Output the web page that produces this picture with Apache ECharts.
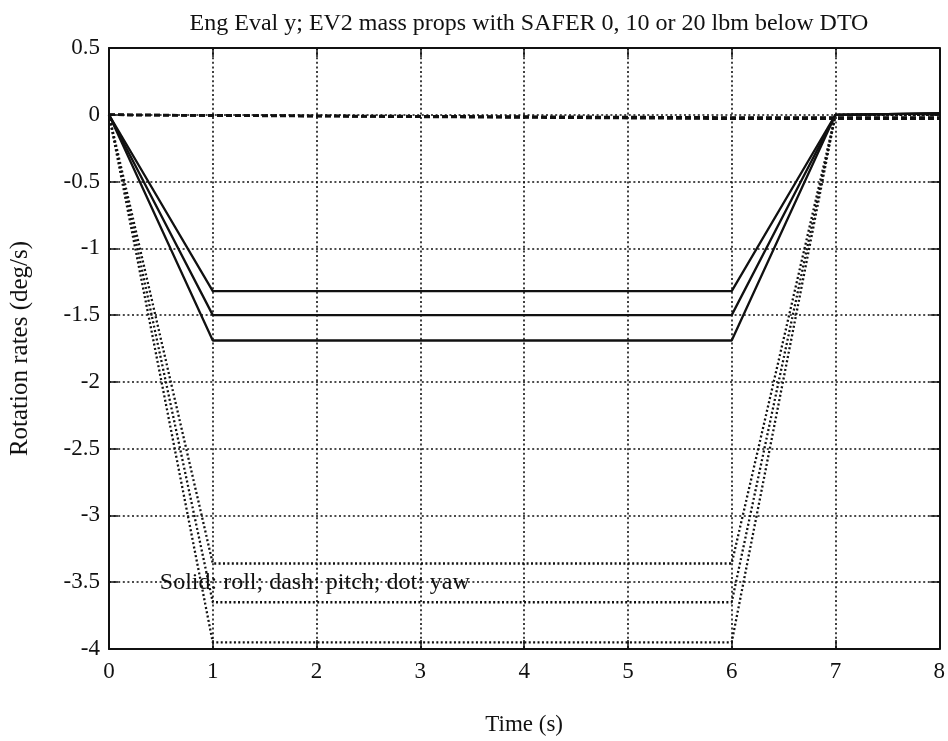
<!DOCTYPE html>
<html>
<head>
<meta charset="utf-8">
<script src="https://cdn.jsdelivr.net/npm/echarts@6/dist/echarts.min.js"></script>
<style>
  html, body { margin: 0; padding: 0; background: #fff; }
  #chart { width: 948px; height: 741px; }
</style>
</head>
<body>
<div id="chart"></div>
<script>
// SAFER rotation rates, three mass cases per axis
const time = [0, 1, 6, 7, 8]

const roll0 = [0, -1.32, -1.32, 0, 0.01]
const roll10 = [0, -1.50, -1.50, 0, 0.01]
const roll20 = [0, -1.69, -1.69, 0, 0.01]

const pitch0 = [0, -0.004, -0.02, -0.02, -0.02]
const pitch10 = [0, -0.005, -0.025, -0.025, -0.025]
const pitch20 = [0, -0.006, -0.03, -0.03, -0.03]

const yaw0 = [0, -3.36, -3.36, 0, 0]
const yaw10 = [0, -3.65, -3.65, 0, 0]
const yaw20 = [0, -3.95, -3.95, 0, 0]

const titleText = 'Eng Eval y; EV2 mass props with SAFER 0, 10 or 20 lbm below DTO'
const noteText = 'Solid: roll; dash: pitch; dot: yaw'
const notePos = [0.49, -3.5]

const FONT = '"Liberation Serif", "Times New Roman", serif'
const INK = '#111'
const GRID_DOT = [2, 2.6]

const pairs = vals => time.map((t, i) => [t, vals[i]])

function lineSeries(vals, kind) {
  const styles = {
    roll: { width: 2.3, type: 'solid' },
    pitch: { width: 2.5, type: [6, 3] },
    yaw: { width: 2.3, type: [2, 2.4] }
  }
  return {
    type: 'line',
    data: pairs(vals),
    symbol: 'none',
    animation: false,
    lineStyle: { color: INK, ...styles[kind] },
    z: kind === 'roll' ? 4 : 3
  }
}

const chart = echarts.init(document.getElementById('chart'))

const tickInside = { show: true, inside: true, length: 9, lineStyle: { color: INK, width: 1.5 } }
const frameLine = { show: true, onZero: false, lineStyle: { color: INK, width: 2 } }

chart.setOption({
  animation: false,
  textStyle: { fontFamily: FONT, color: INK },
  title: {
    text: titleText,
    left: 524,
    textAlign: 'center',
    top: 7,
    textStyle: { fontFamily: FONT, fontWeight: 'normal', fontSize: 24, color: INK }
  },
  grid: { left: 109, right: 8, top: 48, bottom: 85, containLabel: false },
  xAxis: [
    {
      type: 'value', min: 0, max: 8, interval: 1,
      name: 'Time (s)', nameLocation: 'middle', nameGap: 64,
      nameTextStyle: { fontFamily: FONT, fontSize: 23, color: INK },
      axisLine: frameLine,
      axisTick: tickInside,
      axisLabel: { fontFamily: FONT, fontSize: 23, color: INK, margin: 11 },
      splitLine: { show: true, lineStyle: { color: INK, width: 1.6, type: GRID_DOT } }
    },
    {
      type: 'value', min: 0, max: 8, interval: 1, position: 'top',
      axisLine: frameLine, axisTick: tickInside,
      axisLabel: { show: false }, splitLine: { show: false }
    }
  ],
  yAxis: [
    {
      type: 'value', min: -4, max: 0.5, interval: 0.5,
      name: 'Rotation rates (deg/s)', nameLocation: 'middle', nameGap: 76, nameRotate: 90,
      nameTextStyle: { fontFamily: FONT, fontSize: 25, color: INK },
      axisLine: frameLine,
      axisTick: tickInside,
      axisLabel: { fontFamily: FONT, fontSize: 23, color: INK, margin: 9 },
      splitLine: { show: true, lineStyle: { color: INK, width: 1.6, type: GRID_DOT } }
    },
    {
      type: 'value', min: -4, max: 0.5, interval: 0.5, position: 'right',
      axisLine: frameLine, axisTick: tickInside,
      axisLabel: { show: false }, splitLine: { show: false }
    }
  ],
  series: [
    lineSeries(yaw0, 'yaw'),
    lineSeries(yaw10, 'yaw'),
    lineSeries(yaw20, 'yaw'),
    lineSeries(pitch0, 'pitch'),
    lineSeries(pitch10, 'pitch'),
    lineSeries(pitch20, 'pitch'),
    lineSeries(roll0, 'roll'),
    lineSeries(roll10, 'roll'),
    lineSeries(roll20, 'roll')
  ]
})

// note text sits at a data position inside the plot
const p = chart.convertToPixel({ xAxisIndex: 0, yAxisIndex: 0 }, notePos)
chart.setOption({
  graphic: [{
    type: 'text',
    x: p[0], y: p[1],
    style: {
      text: noteText,
      font: '24px ' + FONT,
      fill: INK,
      textVerticalAlign: 'middle',
      verticalAlign: 'middle'
    },
    z: 10
  }]
})
</script>
</body>
</html>
